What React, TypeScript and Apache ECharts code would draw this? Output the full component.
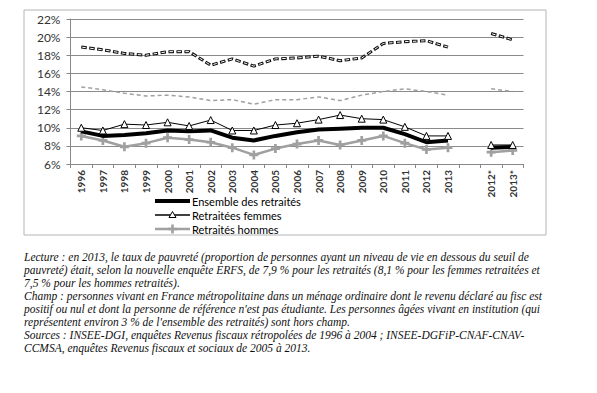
import React, { useEffect, useRef } from "react";
import * as echarts from "echarts";

const categories = ["1996","1997","1998","1999","2000","2001","2002","2003","2004","2005","2006","2007","2008","2009","2010","2011","2012","2013","","2012*","2013*"];
const seuilHaut = [18.9,18.6,18.2,18.0,18.4,18.4,16.9,17.6,16.8,17.6,17.7,17.9,17.4,17.7,19.3,19.5,19.6,18.9,null,20.4,19.7];
const seuilGris = [14.5,14.2,13.8,13.5,13.6,13.4,13.0,13.1,12.6,13.1,13.1,13.4,13.0,13.6,14.0,14.3,14.0,13.6,null,14.3,14.0];
const ensemble = [9.6,9.1,9.2,9.4,9.7,9.6,9.7,8.9,8.6,9.1,9.5,9.8,9.9,10.0,10.0,9.3,8.4,8.6,null,7.8,7.9];
const femmes = [10.0,9.7,10.4,10.3,10.6,10.2,10.85,9.7,9.7,10.3,10.5,10.9,11.4,11.0,10.9,10.1,9.1,9.1,null,8.1,8.1];
const hommes = [9.1,8.6,7.9,8.3,8.9,8.7,8.4,7.8,7.0,7.7,8.2,8.6,8.1,8.6,9.1,8.3,7.6,7.8,null,7.3,7.5];
const legendNames = ["Ensemble des retraités", "Retraitées femmes", "Retraités hommes"];
const noteLines = [
  "Lecture : en 2013, le taux de pauvreté (proportion de personnes ayant un niveau de vie en dessous du seuil de",
  "pauvreté) était, selon la nouvelle enquête ERFS, de 7,9 % pour les retraités (8,1 % pour les femmes retraitées et",
  "7,5 % pour les hommes retraités).",
  "Champ : personnes vivant en France métropolitaine dans un ménage ordinaire dont le revenu déclaré au fisc est",
  "positif ou nul et dont la personne de référence n'est pas étudiante. Les personnes âgées vivant en institution (qui",
  "représentent environ 3 % de l'ensemble des retraités) sont hors champ.",
  "Sources : INSEE-DGI, enquêtes Revenus fiscaux rétropolées de 1996 à 2004 ; INSEE-DGFiP-CNAF-CNAV-",
  "CCMSA, enquêtes Revenus fiscaux et sociaux de 2005 à 2013.",
];

const PLUS = "path://M3.5,0h3v3.5h3.5v3h-3.5v3.5h-3v-3.5h-3.5v-3h3.5z";

export default function App() {
  const ref = useRef<HTMLDivElement>(null);
  useEffect(() => {
    if (!ref.current) return;
    const chart = echarts.init(ref.current, undefined, { renderer: "svg" });
    const grey = "#a0a0a0";

    const lx0 = 155, lx1 = 190, ltx = 192;
    const rows = [201, 215, 229];
    const plusPts = (cx: number, cy: number, s: number, t: number) => {
      const h = s / 2, w = t / 2;
      return [
        [cx - w, cy - h], [cx + w, cy - h], [cx + w, cy - w], [cx + h, cy - w],
        [cx + h, cy + w], [cx + w, cy + w], [cx + w, cy + h], [cx - w, cy + h],
        [cx - w, cy + w], [cx - h, cy + w], [cx - h, cy - w], [cx - w, cy - w],
      ];
    };
    const cx = (lx0 + lx1) / 2;
    const legendGraphics: any[] = [
      { type: "line", shape: { x1: lx0, y1: rows[0], x2: lx1, y2: rows[0] }, style: { stroke: "#000", lineWidth: 4 }, silent: true },
      { type: "line", shape: { x1: lx0, y1: rows[1], x2: lx1, y2: rows[1] }, style: { stroke: "#000", lineWidth: 1.5 }, silent: true },
      { type: "polygon", shape: { points: [[cx, rows[1] - 3.5], [cx + 3.5, rows[1] + 2.5], [cx - 3.5, rows[1] + 2.5]] }, style: { fill: "#fff", stroke: "#000", lineWidth: 1 }, silent: true },
      { type: "line", shape: { x1: lx0, y1: rows[2], x2: lx1, y2: rows[2] }, style: { stroke: grey, lineWidth: 2.5 }, silent: true },
      { type: "polygon", shape: { points: plusPts(cx, rows[2], 9, 2.6) }, style: { fill: grey }, silent: true },
      ...legendNames.map((n, i) => ({
        type: "text",
        x: ltx,
        y: rows[i],
        style: { text: n, fontFamily: "Lato", fontSize: 11, fill: "#000", textVerticalAlign: "middle" },
      })),
    ];

    chart.setOption({
      animation: false,
      backgroundColor: "#fff",
      grid: { left: 70.5, right: 73.5, top: 19, bottom: 229 },
      xAxis: {
        type: "category",
        data: categories,
        boundaryGap: true,
        axisLine: { lineStyle: { color: "#888", width: 1 } },
        axisTick: { show: true, length: 4, lineStyle: { color: "#888" }, interval: 0 },
        axisLabel: {
          rotate: 90,
          interval: 0,
          margin: 6,
          fontFamily: "Lato",
          fontSize: 10,
          fontWeight: "bold",
          color: "#333",
        },
      },
      yAxis: {
        type: "value",
        min: 6,
        max: 22,
        interval: 2,
        axisLine: { show: true, lineStyle: { color: "#888" } },
        axisTick: { show: true, length: 4, lineStyle: { color: "#888" } },
        splitLine: { lineStyle: { color: "#8a8a8a", width: 1 } },
        axisLabel: {
          formatter: "{value}%",
          margin: 10,
          fontFamily: "Lato",
          fontSize: 12,
          color: "#333",
        },
      },
      series: [
        {
          name: "seuilGris",
          type: "line",
          data: seuilGris,
          symbol: "none",
          lineStyle: { color: grey, width: 1.5, type: [4, 3] },
          z: 2,
        },
        {
          name: "seuilHautNoir",
          type: "line",
          data: seuilHaut,
          symbol: "none",
          lineStyle: { color: "#111", width: 3, type: [5.5, 2.5], cap: "butt" },
          z: 2,
        },
        {
          name: "seuilHautBlanc",
          type: "line",
          data: seuilHaut,
          symbol: "none",
          lineStyle: { color: "#fff", width: 1, type: [3.5, 4.5], dashOffset: -1, cap: "butt" },
          z: 3,
        },
        {
          name: legendNames[2],
          type: "line",
          data: hommes,
          symbol: PLUS,
          symbolSize: 9,
          itemStyle: { color: grey },
          lineStyle: { color: grey, width: 2.5 },
          z: 4,
        },
        {
          name: legendNames[0],
          type: "line",
          data: ensemble,
          symbol: "none",
          itemStyle: { color: "#000" },
          lineStyle: { color: "#000", width: 4 },
          z: 5,
        },
        {
          name: legendNames[1],
          type: "line",
          data: femmes,
          symbol: "triangle",
          symbolSize: 7,
          itemStyle: { color: "#fff", borderColor: "#000", borderWidth: 1 },
          lineStyle: { color: "#000", width: 1 },
          z: 6,
        },
      ],
      graphic: [
        {
          type: "rect",
          shape: { x: 24, y: 10, width: 522, height: 225 },
          style: { fill: "none", stroke: "#b4b4b4", lineWidth: 1 },
          silent: true,
        },
        ...legendGraphics,
        ...noteLines.map((t, i) => ({
          type: "text",
          x: 24,
          y: 257 + i * 13,
          style: {
            text: t,
            fontFamily: "Liberation Serif",
            fontStyle: "italic",
            fontSize: 11.5,
            fill: "#111",
            textVerticalAlign: "middle",
          },
        })),
      ],
    });
    return () => chart.dispose();
  }, []);
  return (
    <div
      ref={ref}
      style={{ position: "absolute", left: 0, top: 0, width: 597, height: 393 }}
    />
  );
}
